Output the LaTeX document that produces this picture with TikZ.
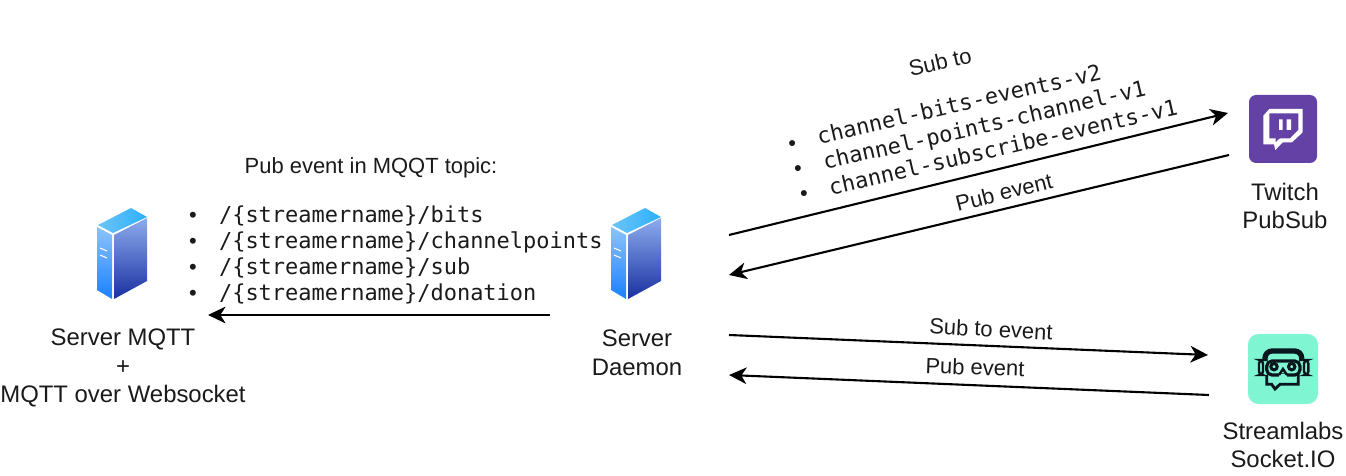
\documentclass[tikz,border=0pt]{standalone}
\usepackage{fontspec}
\setmainfont{Liberation Sans}
\setmonofont{DejaVu Sans Mono}
\usetikzlibrary{arrows.meta}

\definecolor{twitchpurple}{HTML}{6441A4}
\definecolor{labsmint}{HTML}{80F5D2}
\definecolor{labsdark}{HTML}{09161D}
\definecolor{inktext}{HTML}{1A1A1A}
\definecolor{roofa}{HTML}{6CC4F5}
\definecolor{roofb}{HTML}{2BB0FF}
\definecolor{sidea}{HTML}{8CC4FA}
\definecolor{sideb}{HTML}{1A80FF}
\definecolor{fronta}{HTML}{8CACEE}
\definecolor{frontb}{HTML}{1A30A0}

\newcommand{\topicitem}[1]{\makebox[17pt][l]{\textbullet}{\ttfamily #1}}

\tikzset{
    flow/.style={line width=1.2pt, -{Stealth[length=10pt,width=9.5pt,inset=3pt]}},
    hostlabel/.style={align=center, text=inktext, font=\fontsize{13.6}{16.2}\selectfont},
    flowlabel/.style={text=inktext, font=\fontsize{12.5}{15}\selectfont},
    topiclist/.style={anchor=west, align=left, text=inktext, font=\fontsize{12.5}{14.8}\selectfont},
    server/.pic={
        \shade[left color=roofa, right color=roofb] (-24,-29) -- (9,-46) -- (25,-37) -- (-9,-21) -- cycle;
        \shade[top color=sidea, bottom color=sideb] (-25,-27) -- (-10,-19) -- (-10,45) -- (-25,36) -- cycle;
        \shade[top color=fronta, bottom color=frontb] (-8,-19) -- (25,-36) -- (25,27) -- (-8,45) -- cycle;
        \draw[white, line width=0.6pt] (-22,-6) -- (-15,-3) (-22,1) -- (-15,4);
    },
    twitchicon/.pic={
        \fill[twitchpurple, rounded corners=4pt] (-34,-34) rectangle (34,34);
        \fill[white, even odd rule] (-13.7,-20) -- (19.7,-20) -- (19.7,3.3) -- (9,13.3) -- (-0.3,13.3) -- (-7.7,21) -- (-9,15.3) -- (-19.7,15.3) -- (-19.7,-13.3) -- cycle
            (-13.7,-15.7) -- (15.3,-15.7) -- (15.3,1) -- (7,9.3) -- (-3,9.3) -- (-7.3,13.3) -- (-7.3,9.3) -- (-13.7,9.3) -- cycle;
        \fill[white] (-4,-9.7) rectangle (-0.3,1) (3.7,-9.7) rectangle (8,1);
    },
    labsicon/.pic={
        \fill[labsmint, rounded corners=6pt] (-35,-35) rectangle (35,35);
        \draw[labsdark, line width=3pt, rounded corners=4pt] (-18,-8) -- (-18,-18) -- (18.7,-18) -- (18.7,-8);
        \draw[labsdark, line width=1.8pt, rounded corners=3pt] (-16.3,-8) rectangle (17,6);
        \draw[labsdark, line width=1.4pt, rounded corners=2pt] (-24,-9) rectangle (-20,6) (21,-9) rectangle (25.3,6);
        \draw[labsdark, line width=1.6pt] (-16.3,6) -- (-16.3,15.3) -- (-11.3,15.3) -- (-8,20) -- (-3,15.3) -- (15.3,15.3) -- (15.3,6);
        \draw[labsdark, line width=1.7pt] (-9,-2.3) circle (3.2) (8.7,-2.3) circle (3.2);
        \draw[labsmint, line width=2pt] (-4,7) -- (4,7);
        \draw[labsdark, line width=1.4pt] (-4,6) -- (0,0) -- (4,6);
    }
}

\begin{document}
\begin{tikzpicture}[x=0.02cm, y=-0.02cm]
    \useasboundingbox (0,0) rectangle (1346,476);

    % Hosts
    \pic at (122,254) {server};
    \pic at (636,254) {server};
    \pic at (1283,129) {twitchicon};
    \pic at (1283,369) {labsicon};

    \node[hostlabel] (mqttlabel) at (123,368) {Server MQTT\\+\\MQTT over Websocket};
    \node[hostlabel] (daemonlabel) at (637,353) {Server\\Daemon};
    \node[hostlabel] (twitchlabel) at (1285,206) {Twitch\\PubSub};
    \node[hostlabel] (labslabel) at (1283,445) {Streamlabs\\Socket.IO};

    % Arrow ends
    \coordinate (mqttin) at (208,315);
    \coordinate (daemonmqtt) at (550,315);
    \coordinate (daemontwout) at (729,235);
    \coordinate (twitchin) at (1228,113);
    \coordinate (twitchout) at (1229,155);
    \coordinate (daemontwin) at (729,275);
    \coordinate (daemonlabout) at (729,335);
    \coordinate (labsin) at (1208,355);
    \coordinate (labsout) at (1209,395);
    \coordinate (daemonlabin) at (729,375);

    % Arrows
    \draw[flow] (daemonmqtt) -- (mqttin);
    \draw[flow] (daemontwout) -- (twitchin);
    \draw[flow] (twitchout) -- (daemontwin);
    \draw[flow] (daemonlabout) -- (labsin);
    \draw[flow] (labsout) -- (daemonlabin);

    % Left labels
    \node[flowlabel] (pubtopic) at (371,168) {Pub event in MQQT topic:};
    \node[topiclist] (topics) at (183,255) {\topicitem{/\{streamername\}/bits}\\
        \topicitem{/\{streamername\}/channelpoints}\\
        \topicitem{/\{streamername\}/sub}\\
        \topicitem{/\{streamername\}/donation}};

    % Right labels
    \node[flowlabel, rotate=13] (subto) at (940,62) {Sub to};
    \node[topiclist, rotate=13] (channels) at (788,170) {\topicitem{channel-bits-events-v2}\\
        \topicitem{channel-points-channel-v1}\\
        \topicitem{channel-subscribe-events-v1}};
    \node[flowlabel, rotate=14] (pubtwitch) at (1004,192) {Pub event};
    \node[flowlabel, rotate=-3] (subevent) at (991,329) {Sub to event};
    \node[flowlabel, rotate=-2] (publabs) at (975,367) {Pub event};
\end{tikzpicture}
\end{document}
